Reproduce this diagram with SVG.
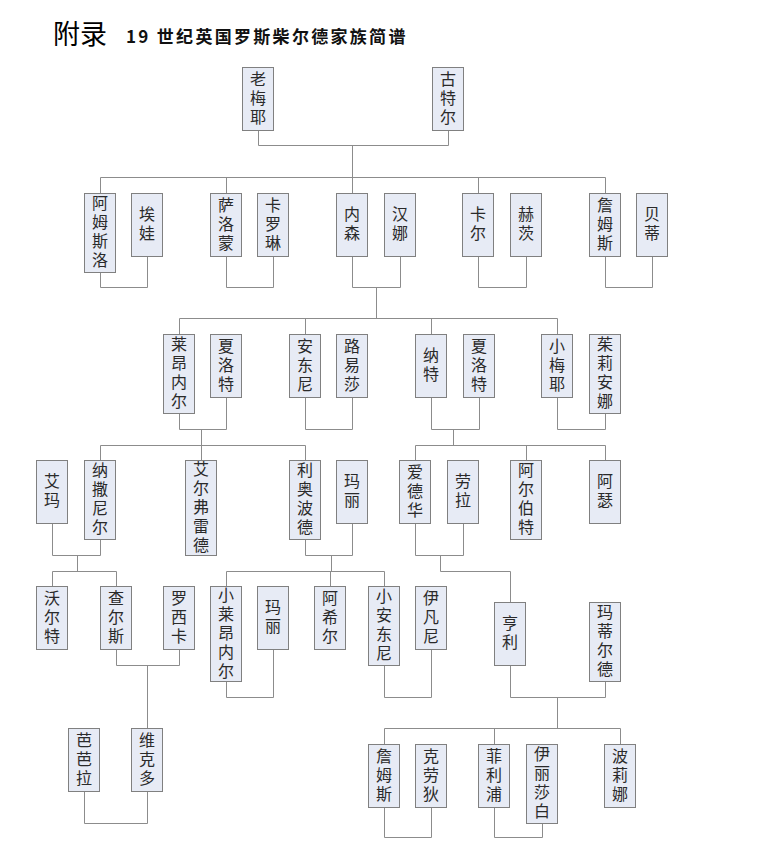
<svg xmlns="http://www.w3.org/2000/svg" width="763" height="854" viewBox="0 0 763 854">
<style>
.n rect{fill:#e7ebf5;stroke:#808080;stroke-width:1}
.n text{font-family:"Noto Sans CJK SC","Noto Sans CJK JP",sans-serif;font-size:16px;fill:#2a2a2a;text-anchor:middle;writing-mode:vertical-rl;letter-spacing:3px}
#connectors path{fill:none;stroke:#8c8c8c;stroke-width:1}
.t1{font-family:"Noto Sans CJK SC",sans-serif;font-size:27px;fill:#000}
.t2{font-family:"Noto Sans CJK SC",sans-serif;font-size:17px;font-weight:bold;fill:#111;letter-spacing:2.3px}
</style>
<rect width="763" height="854" fill="#fff"/>
<g id="title"><text class="t1" x="53" y="44">附录</text><text class="t2" x="126" y="43">19 世纪英国罗斯柴尔德家族简谱</text></g>
<g id="connectors">
<path d="M258.5,130.5 V145.5 H448.5 V130.5 M352.5,145.5 V177.5"/>
<path d="M100.5,177.5 H605.5 M100.5,177.5 V193.5 M226.5,177.5 V193.5 M352.5,177.5 V193.5 M478.5,177.5 V193.5 M605.5,177.5 V193.5"/>
<path d="M100.5,272.5 V287.5 H147.5 V256.5 M226.5,256.5 V287.5 H273.5 V256.5 M352.5,256.5 V287.5 H400.5 V256.5 M478.5,256.5 V287.5 H526.5 V256.5 M605.5,256.5 V287.5 H652.5 V256.5"/>
<path d="M376.5,287.5 V318.5 M179.5,318.5 H557.5 M179.5,318.5 V334.5 M305.5,318.5 V334.5 M431.5,318.5 V334.5 M557.5,318.5 V334.5"/>
<path d="M179.5,413.5 V429.5 H226.5 V397.5 M305.5,397.5 V429.5 H352.5 V397.5 M431.5,397.5 V429.5 H479.5 V397.5 M557.5,397.5 V429.5 H605.5 V413.5"/>
<path d="M201.5,429.5 V445.5 M453.5,429.5 V445.5 M100.5,445.5 H305.5 M100.5,445.5 V460.5 M201.5,445.5 V460.5 M305.5,445.5 V460.5 M415.5,445.5 H605.5 M415.5,445.5 V460.5 M526.5,445.5 V460.5 M605.5,445.5 V460.5"/>
<path d="M52.5,523.5 V555.5 H100.5 V539.5 M77.5,555.5 V571.5 M305.5,539.5 V555.5 H352.5 V523.5 M331.5,555.5 V571.5 M415.5,523.5 V555.5 H463.5 V523.5 M440.5,555.5 V571.5 H510.5 V602.5"/>
<path d="M52.5,571.5 H116.5 M52.5,571.5 V586.5 M116.5,571.5 V586.5 M226.5,571.5 H384.5 M226.5,571.5 V586.5 M330.5,571.5 V586.5 M384.5,571.5 V586.5"/>
<path d="M116.5,649.5 V665.5 H179.5 V649.5 M147.5,665.5 V728.5 M226.5,681.5 V697.5 H273.5 V649.5 M384.5,665.5 V697.5 H431.5 V649.5 M510.5,665.5 V697.5 H605.5 V681.5 M557.5,697.5 V728.5"/>
<path d="M384.5,728.5 H620.5 M384.5,728.5 V744.5 M494.5,728.5 V744.5 M620.5,728.5 V744.5"/>
<path d="M84.5,791.5 V823.5 H147.5 V791.5 M384.5,807.5 V837.5 H431.5 V807.5 M494.5,807.5 V837.5 H542.5 V823.5"/>
</g>
<g id="n-laomeiye" class="n"><rect x="242.5" y="67.5" width="31" height="63"/><text x="258" y="99">老梅耶</text></g>
<g id="n-guteer" class="n"><rect x="432.5" y="67.5" width="31" height="63"/><text x="448" y="99">古特尔</text></g>
<g id="n-amusiluo" class="n"><rect x="84.5" y="193.5" width="31" height="79"/><text x="100" y="233">阿姆斯洛</text></g>
<g id="n-aiwa" class="n"><rect x="131.5" y="193.5" width="31" height="63"/><text x="147" y="225">埃娃</text></g>
<g id="n-saluomeng" class="n"><rect x="210.5" y="193.5" width="31" height="63"/><text x="226" y="225">萨洛蒙</text></g>
<g id="n-kaluolin" class="n"><rect x="257.5" y="193.5" width="31" height="63"/><text x="273" y="225">卡罗琳</text></g>
<g id="n-neisen" class="n"><rect x="336.5" y="193.5" width="31" height="63"/><text x="352" y="225">内森</text></g>
<g id="n-hanna" class="n"><rect x="384.5" y="193.5" width="31" height="63"/><text x="400" y="225">汉娜</text></g>
<g id="n-kaer" class="n"><rect x="462.5" y="193.5" width="31" height="63"/><text x="478" y="225">卡尔</text></g>
<g id="n-heci" class="n"><rect x="510.5" y="193.5" width="31" height="63"/><text x="526" y="225">赫茨</text></g>
<g id="n-zhanmusi" class="n"><rect x="589.5" y="193.5" width="31" height="63"/><text x="605" y="225">詹姆斯</text></g>
<g id="n-beidi" class="n"><rect x="636.5" y="193.5" width="31" height="63"/><text x="652" y="225">贝蒂</text></g>
<g id="n-laiangneier" class="n"><rect x="163.5" y="334.5" width="31" height="79"/><text x="179" y="374">莱昂内尔</text></g>
<g id="n-xialuote1" class="n"><rect x="210.5" y="334.5" width="31" height="63"/><text x="226" y="366">夏洛特</text></g>
<g id="n-andongni" class="n"><rect x="289.5" y="334.5" width="31" height="63"/><text x="305" y="366">安东尼</text></g>
<g id="n-luyisha" class="n"><rect x="336.5" y="334.5" width="31" height="63"/><text x="352" y="366">路易莎</text></g>
<g id="n-nate" class="n"><rect x="415.5" y="334.5" width="31" height="63"/><text x="431" y="366">纳特</text></g>
<g id="n-xialuote2" class="n"><rect x="463.5" y="334.5" width="31" height="63"/><text x="479" y="366">夏洛特</text></g>
<g id="n-xiaomeiye" class="n"><rect x="541.5" y="334.5" width="31" height="63"/><text x="557" y="366">小梅耶</text></g>
<g id="n-zhulianna" class="n"><rect x="589.5" y="334.5" width="31" height="79"/><text x="605" y="374">茱莉安娜</text></g>
<g id="n-aima" class="n"><rect x="36.5" y="460.5" width="31" height="63"/><text x="52" y="492">艾玛</text></g>
<g id="n-nasanier" class="n"><rect x="84.5" y="460.5" width="31" height="79"/><text x="100" y="500">纳撒尼尔</text></g>
<g id="n-aierfuleide" class="n"><rect x="185.5" y="460.5" width="31" height="95"/><text x="201" y="508">艾尔弗雷德</text></g>
<g id="n-liaobode" class="n"><rect x="289.5" y="460.5" width="31" height="79"/><text x="305" y="500">利奥波德</text></g>
<g id="n-mali1" class="n"><rect x="336.5" y="460.5" width="31" height="63"/><text x="352" y="492">玛丽</text></g>
<g id="n-aidehua" class="n"><rect x="399.5" y="460.5" width="31" height="63"/><text x="415" y="492">爱德华</text></g>
<g id="n-laola" class="n"><rect x="447.5" y="460.5" width="31" height="63"/><text x="463" y="492">劳拉</text></g>
<g id="n-aerbote" class="n"><rect x="510.5" y="460.5" width="31" height="79"/><text x="526" y="500">阿尔伯特</text></g>
<g id="n-ase" class="n"><rect x="589.5" y="460.5" width="31" height="63"/><text x="605" y="492">阿瑟</text></g>
<g id="n-woerte" class="n"><rect x="36.5" y="586.5" width="31" height="63"/><text x="52" y="618">沃尔特</text></g>
<g id="n-chaersi" class="n"><rect x="100.5" y="586.5" width="31" height="63"/><text x="116" y="618">查尔斯</text></g>
<g id="n-luoxika" class="n"><rect x="163.5" y="586.5" width="31" height="63"/><text x="179" y="618">罗西卡</text></g>
<g id="n-xiaolaiangneier" class="n"><rect x="210.5" y="586.5" width="31" height="95"/><text x="226" y="634">小莱昂内尔</text></g>
<g id="n-mali2" class="n"><rect x="257.5" y="586.5" width="31" height="63"/><text x="273" y="618">玛丽</text></g>
<g id="n-axier" class="n"><rect x="314.5" y="586.5" width="31" height="63"/><text x="330" y="618">阿希尔</text></g>
<g id="n-xiaoandongni" class="n"><rect x="368.5" y="586.5" width="31" height="79"/><text x="384" y="626">小安东尼</text></g>
<g id="n-yifanni" class="n"><rect x="415.5" y="586.5" width="31" height="63"/><text x="431" y="618">伊凡尼</text></g>
<g id="n-hengli" class="n"><rect x="494.5" y="602.5" width="31" height="63"/><text x="510" y="634">亨利</text></g>
<g id="n-madierde" class="n"><rect x="589.5" y="602.5" width="31" height="79"/><text x="605" y="642">玛蒂尔德</text></g>
<g id="n-babala" class="n"><rect x="68.5" y="728.5" width="31" height="63"/><text x="84" y="760">芭芭拉</text></g>
<g id="n-weikeduo" class="n"><rect x="131.5" y="728.5" width="31" height="63"/><text x="147" y="760">维克多</text></g>
<g id="n-zhanmusi2" class="n"><rect x="368.5" y="744.5" width="31" height="63"/><text x="384" y="776">詹姆斯</text></g>
<g id="n-kelaodi" class="n"><rect x="415.5" y="744.5" width="31" height="63"/><text x="431" y="776">克劳狄</text></g>
<g id="n-feilipu" class="n"><rect x="478.5" y="744.5" width="31" height="63"/><text x="494" y="776">菲利浦</text></g>
<g id="n-yilishabai" class="n"><rect x="526.5" y="744.5" width="31" height="79"/><text x="542" y="784">伊丽莎白</text></g>
<g id="n-bolina" class="n"><rect x="604.5" y="744.5" width="31" height="63"/><text x="620" y="776">波莉娜</text></g>
</svg>
